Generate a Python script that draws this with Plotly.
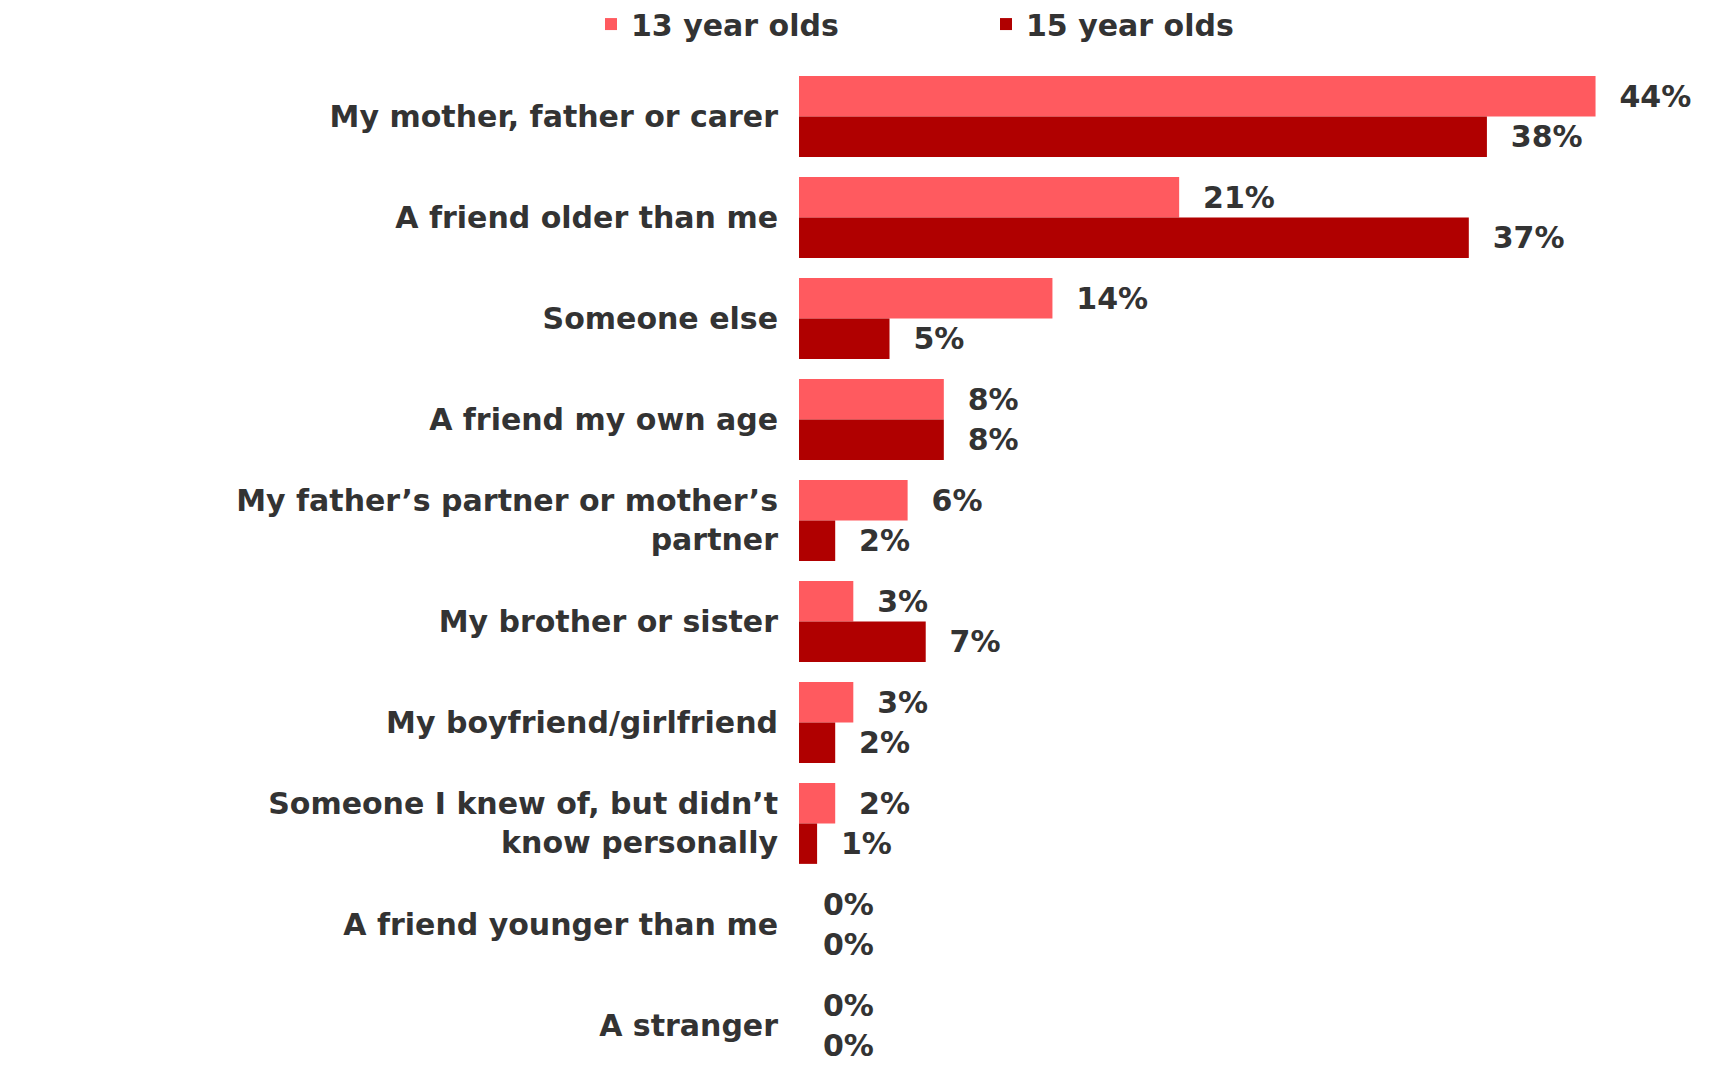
import plotly.graph_objects as go

categories = [
    "My mother, father or carer",
    "A friend older than me",
    "Someone else",
    "A friend my own age",
    "My father\u2019s partner or mother\u2019s<br>partner",
    "My brother or sister",
    "My boyfriend/girlfriend",
    "Someone I knew of, but didn\u2019t<br>know personally",
    "A friend younger than me",
    "A stranger",
]
values_13 = [44, 21, 14, 8, 6, 3, 3, 2, 0, 0]
values_15 = [38, 37, 5, 8, 2, 7, 2, 1, 0, 0]
series_names = ["13 year olds", "15 year olds"]
colors = ["#FF5A5F", "#B00000"]

FONT = "DejaVu Sans"
FS = 30
fig = go.Figure()
for name, vals, col in zip(series_names, [values_13, values_15], colors):
    fig.add_trace(go.Bar(
        y=categories, x=vals, orientation="h", name=name,
        marker=dict(color=col, line=dict(width=0)),
        text=[f"  {v}%" for v in vals], textposition="outside",
        textfont=dict(family=FONT, size=FS, color="#333333", weight="bold"),
        cliponaxis=False, constraintext="none",
    ))

fig.update_layout(
    width=1733, height=1071,
    margin=dict(l=791, r=64, t=58, b=0, autoexpand=False),
    plot_bgcolor="white", paper_bgcolor="white",
    barmode="group", bargap=0.2, bargroupgap=0,
    font=dict(family=FONT, size=FS, color="#333333", weight="bold"),
    legend=dict(orientation="h", xref="container", yref="container",
                x=0.3364, xanchor="left", y=0.985, yanchor="middle",
                entrywidth=350, entrywidthmode="pixels",
                font=dict(family=FONT, size=FS, color="#333333", weight="bold")),
    xaxis=dict(range=[0, 48.5], visible=False, automargin=False),
    yaxis=dict(range=[9.53, -0.5], showline=False, showgrid=False,
               ticks="", ticklabelstandoff=20, categoryorder="array",
               categoryarray=categories, automargin=False),
)
fig.write_html("out.html")
